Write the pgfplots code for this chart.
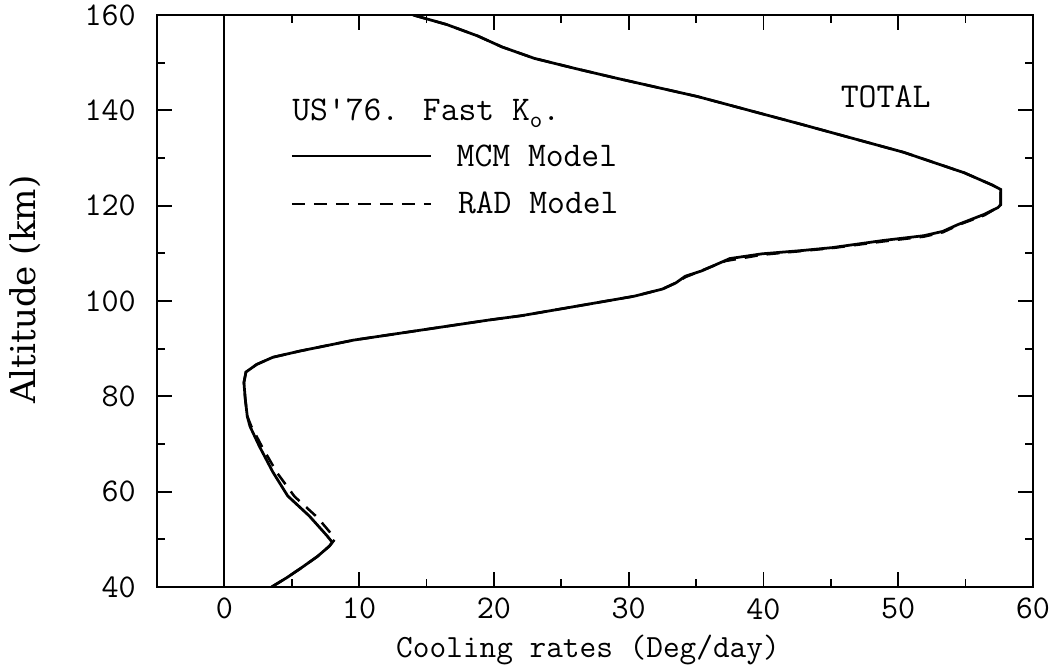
\documentclass[border=0pt]{standalone}
\usepackage{fontspec}
\setmainfont{DejaVu Serif}
\usepackage{pgfplots}
\usepackage{pgfplotstable}
\pgfplotsset{compat=1.18}

% MCM model, total cooling rate (Deg/day) vs altitude (km)
\pgfplotstableread{
x y
3.5 40
4.6 41.9
5.6 43.8
6.9 46.4
7.8 48.6
8.0 49.4
7.6 50.8
6.3 54.9
4.7 59.1
3.6 64.1
2.6 69.5
1.9 73.7
1.7 75.8
1.55 79.4
1.45 82.9
1.6 85.1
2.4 86.7
3.6 88.2
5.6 89.5
9.6 91.8
14.6 93.9
19.6 96.0
22.0 96.9
25.5 98.6
30.4 101.0
32.5 102.5
33.5 103.8
34.2 105.2
35.4 106.3
37.5 108.9
39.9 109.9
42.9 110.6
45.1 111.2
48.9 112.7
51.9 113.7
53.3 114.6
54.4 116.0
56.4 118.2
57.4 119.6
57.6 120.2
57.6 123.4
57.0 124.3
54.9 126.9
50.4 131.2
42.9 137.0
35.1 142.9
29.0 146.8
26.0 148.8
23.0 150.9
20.6 153.3
18.8 155.6
16.5 158.0
14.0 160.0
}\mcm

% RAD model
\pgfplotstableread{
x y
3.5 40
4.6 41.9
5.6 43.8
6.9 46.4
7.8 48.6
8.2 50.0
7.8 51.6
6.9 54.6
5.2 59.0
3.9 64.0
2.8 69.4
2.0 73.7
1.7 75.8
1.55 79.4
1.45 82.9
1.6 85.1
2.4 86.7
3.6 88.2
5.6 89.5
9.6 91.8
14.6 93.9
19.6 96.0
22.0 96.9
25.5 98.6
30.4 101.0
32.5 102.5
33.5 103.8
34.2 105.0
35.6 106.6
37.2 108.4
39.9 109.7
42.9 110.5
45.1 111.1
48.9 112.5
51.9 113.5
53.3 114.4
54.6 116.1
56.4 118.0
57.3 119.5
57.6 120.2
57.6 123.4
57.0 124.3
54.9 126.9
50.4 131.2
42.9 137.0
35.1 142.9
29.0 146.8
26.0 148.8
23.0 150.9
20.6 153.3
18.8 155.6
16.5 158.0
14.0 160.0
}\rad

\begin{document}
\begin{tikzpicture}
\begin{axis}[
    scale only axis,
    width=350.4bp,
    height=228.8bp,
    xmin=-5, xmax=60,
    ymin=40, ymax=160,
    xtick={0,10,...,60},
    minor xtick={5,15,...,55},
    ytick={40,60,...,160},
    minor ytick={50,70,...,150},
    major tick length=6bp,
    minor tick length=3.2bp,
    tick style={black, line width=0.7bp},
    axis line style={line width=0.9bp},
    ticklabel style={font=\ttfamily\fontsize{13.3}{14}\selectfont},
    /pgf/number format/assume math mode=true,
    yticklabel style={xshift=-5bp},
    xticklabel style={yshift=-1bp},
    xlabel={Cooling rates (Deg/day)},
    ylabel={Altitude (km)},
    every axis x label/.style={at={(axis description cs:0.492,0)}, anchor=base, yshift=-28bp,
        font=\ttfamily\fontsize{13}{14}\selectfont},
    every axis y label/.style={at={(axis description cs:0,0.52)}, xshift=-52.8bp, rotate=90, anchor=center,
        font=\fontsize{13.7}{14}\selectfont},
]
\addplot[black, line width=0.8bp] coordinates {(0,40) (0,160)};
\addplot[black, line width=1bp, dash pattern=on 5.2bp off 3.6bp] table[x=x, y=y] {\rad};
\addplot[black, line width=1.1bp] table[x=x, y=y] {\mcm};

% key and labels
\node[anchor=base west, inner sep=0, font=\ttfamily\fontsize{13.9}{14}\selectfont]
    at (axis cs:5.0,137.8) {US'76. Fast K\raisebox{-0.45ex}{\fontsize{9.5}{9.5}\selectfont o}.};
\draw[black, line width=0.9bp] (axis cs:5.0,130.4) -- (axis cs:15.3,130.4);
\node[anchor=base west, inner sep=0, font=\ttfamily\fontsize{13.9}{14}\selectfont]
    at (axis cs:17.2,128.3) {MCM Model};
\draw[black, line width=0.9bp, dash pattern=on 5.2bp off 3.6bp] (axis cs:5.0,120.4) -- (axis cs:15.3,120.4);
\node[anchor=base west, inner sep=0, font=\ttfamily\fontsize{13.9}{14}\selectfont]
    at (axis cs:17.3,118.3) {RAD Model};
\node[anchor=base west, inner sep=0, font=\ttfamily\fontsize{14}{14}\selectfont]
    at (axis cs:45.7,140.6) {TOTAL};
\end{axis}
\pgfresetboundingbox
\path[use as bounding box] ([xshift=-62.8bp,yshift=-32.4bp]current axis.south west)
    rectangle ([xshift=10.8bp,yshift=6bp]current axis.north east);
\end{tikzpicture}
\end{document}
